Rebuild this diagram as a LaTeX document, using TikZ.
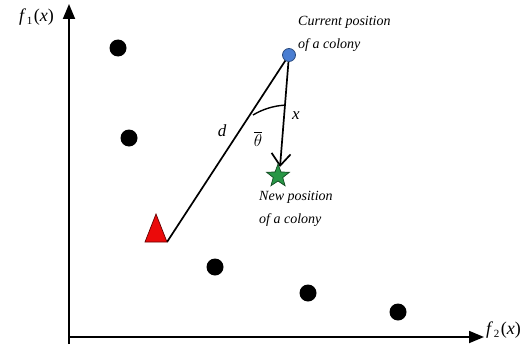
\documentclass[tikz,border=0pt]{standalone}
\usepackage{fontspec}
\setmainfont{Liberation Serif}
\usetikzlibrary{arrows.meta,shapes.geometric}
\definecolor{colblue}{RGB}{74,126,210}
\definecolor{colgreen}{RGB}{40,150,70}
\definecolor{colred}{RGB}{235,10,10}
\begin{document}
\begin{tikzpicture}[x=1pt,y=-1pt,
  axis/.style={line width=1.8pt,-{Triangle[length=15pt,width=12pt]}},
  dot/.style={circle,fill=black,minimum size=17pt,inner sep=0pt},
  lbl/.style={font=\fontsize{14}{16}\selectfont\itshape,inner sep=0pt},
  sym/.style={font=\fontsize{17}{18}\selectfont\itshape,inner sep=0pt},
  conn/.style={line width=1.7pt}]
\useasboundingbox (0,0) rectangle (526,353);
\coordinate (o) at (69,337);
\coordinate (ytop) at (69,4);
\coordinate (xend) at (484,337);
\coordinate (ybot) at (69,344);
\draw[line width=1.8pt] (ybot) -- (o);
\draw[axis] (o) -- (ytop);
\draw[axis] (o) -- (xend);
\node[lbl,anchor=east,font=\fontsize{18}{20}\selectfont] (f1) at (54,17) {\textit{f}\kern0.5pt\raisebox{-3.5pt}{\fontsize{11}{12}\selectfont 1}\kern1.5pt(\textit{x})};
\node[lbl,anchor=west,font=\fontsize{18}{20}\selectfont] (f2) at (486,330) {\textit{f}\kern0.5pt\raisebox{-3.5pt}{\fontsize{11}{12}\selectfont 2}\kern1.5pt(\textit{x})};
\node[dot] (p1) at (118,48) {};
\node[dot] (p2) at (129,138) {};
\node[dot] (p3) at (215,267) {};
\node[dot] (p4) at (308,293) {};
\node[dot] (p5) at (398,312) {};
\coordinate (tr) at (167,242);
\draw[conn] (tr) -- (289,55);
\draw[conn,-{Straight Barb[length=12pt,width=19pt,line width=1.7pt]}] (289,55) -- (280,167);
\draw[line width=1.4pt] (253,115) arc[start angle=239,end angle=266,radius=70];
\draw[fill=colred,draw=black!60!red,line width=0.7pt] (145,242) -- (156,214) -- (167,242) -- cycle;
\node[circle,draw=black!40!colblue,fill=colblue,minimum size=13pt,inner sep=0pt,line width=0.8pt] (cur) at (289,55) {};
\node[star,star points=5,star point ratio=2.4,draw=black!50!colgreen,fill=colgreen,minimum size=24pt,inner sep=0pt,line width=0.7pt] (new) at (278,176) {};
\node[sym] (d) at (222,131) {d};
\node[sym] (th) at (258,139) {$\overline{\theta}$};
\node[sym] (x) at (296,116) {x};
\node[lbl,anchor=west] (c1) at (298,22) {Current position};
\node[lbl,anchor=west] (c2) at (298,45) {of a colony};
\node[lbl,anchor=west] (n1) at (259,197) {New position};
\node[lbl,anchor=west] (n2) at (259,220) {of a colony};
\end{tikzpicture}
\end{document}
